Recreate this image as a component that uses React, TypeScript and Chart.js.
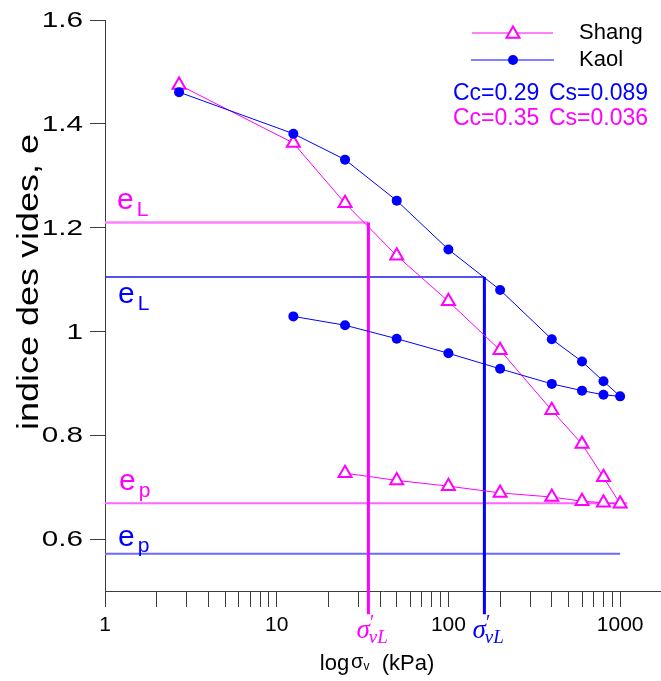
import React, { useEffect, useRef } from 'react';
import { Chart, registerables } from 'chart.js';

Chart.register(...registerables);

// ---- data ----
const shangPressure = [2.7, 12.5, 25, 50, 100, 200, 400, 600, 800, 1000, 800, 600, 400, 200, 100, 50, 25];
const shangVoid = [1.475, 1.363, 1.247, 1.146, 1.058, 0.964, 0.848, 0.783, 0.719, 0.668, 0.670, 0.673, 0.681, 0.689, 0.702, 0.713, 0.727];
const kaolPressure = [2.7, 12.5, 25, 50, 100, 200, 400, 600, 800, 1000, 800, 600, 400, 200, 100, 50, 25, 12.5];
const kaolVoid = [1.461, 1.381, 1.331, 1.252, 1.158, 1.080, 0.985, 0.942, 0.904, 0.875, 0.878, 0.886, 0.899, 0.928, 0.958, 0.986, 1.012, 1.029];

const eLShang = 1.21;
const eLKaol = 1.105;
const epShang = 0.669;
const epKaol = 0.572;
const sigmaLShang = 34.2;
const sigmaLKaol = 162;
const refLineStart = 1;
const epShangEnd = 1100;
const epKaolEnd = 1000;
const verticalLineBottom = 0.455;

const xTickValues = [1, 2, 3, 4, 5, 6, 7, 8, 9, 10, 20, 30, 40, 50, 60, 70, 80, 90, 100, 200, 300, 400, 500, 600, 700, 800, 900, 1000];
const xLabelledTicks = [1, 10, 100, 1000];
const yTickValues = [0.6, 0.8, 1, 1.2, 1.4, 1.6];
const yTickLabels = ['0.6', '0.8', '1', '1.2', '1.4', '1.6'];
const xMin = 1;
const xMax = 1730;
const yMin = 0.5;
const yMax = 1.6;

const legendNames = ['Shang', 'Kaol'];
const ccKaol = 'Cc=0.29';
const csKaol = 'Cs=0.089';
const ccShang = 'Cc=0.35';
const csShang = 'Cs=0.036';

const MAGENTA = '#ff00ff';
const BLUE = '#0000ff';
const SANS = "'Liberation Sans', Arial, sans-serif";
const SERIF = "'Liberation Serif', 'DejaVu Serif', serif";

const pts = (xs: number[], ys: number[]) => xs.map((x, i) => ({ x, y: ys[i] }));

function drawTriangle(ctx: CanvasRenderingContext2D, x: number, y: number, r: number) {
  ctx.beginPath();
  for (let k = 0; k < 3; k++) {
    const a = (k * 2 * Math.PI) / 3;
    const px = x + Math.sin(a) * r;
    const py = y - Math.cos(a) * r;
    if (k === 0) ctx.moveTo(px, py);
    else ctx.lineTo(px, py);
  }
  ctx.closePath();
}

function subLabel(
  ctx: CanvasRenderingContext2D,
  x: number,
  y: number,
  main: string,
  sub: string,
  color: string,
  mainFont: string,
  subFont: string,
  drop: number,
  gap: number
) {
  ctx.fillStyle = color;
  ctx.textAlign = 'left';
  ctx.textBaseline = 'alphabetic';
  ctx.font = mainFont;
  ctx.fillText(main, x, y);
  const w = ctx.measureText(main).width;
  ctx.font = subFont;
  ctx.fillText(sub, x + w + gap, y + drop);
}

const annotations = {
  id: 'annotations',
  afterDraw(chart: any) {
    const { ctx, chartArea, scales } = chart;
    const xs = scales.x;
    const ys = scales.y;
    ctx.save();

    // y tick labels (wide face as in the reference)
    ctx.fillStyle = '#000';
    ctx.font = `22px ${SANS}`;
    ctx.textAlign = 'right';
    ctx.textBaseline = 'middle';
    yTickValues.forEach((v, i) => {
      ctx.save();
      ctx.translate(chartArea.left - 22, ys.getPixelForValue(v) + 1);
      ctx.scale(1.35, 1);
      ctx.fillText(yTickLabels[i], 0, 0);
      ctx.restore();
    });

    // e labels
    const lx = chartArea.left + 12;
    const mf = `30px ${SANS}`;
    const sf = `21px ${SANS}`;
    subLabel(ctx, lx, ys.getPixelForValue(eLShang) - 13, 'e', 'L', MAGENTA, mf, sf, 7, 3);
    subLabel(ctx, lx + 1, ys.getPixelForValue(eLKaol) + 26, 'e', 'L', BLUE, mf, sf, 7, 3);
    subLabel(ctx, lx + 2, ys.getPixelForValue(epShang) - 13, 'e', 'p', MAGENTA, mf, sf, 7, 3);
    subLabel(ctx, lx + 1, ys.getPixelForValue(epKaol) - 8, 'e', 'p', BLUE, mf, sf, 6, 3);

    // sigma'_vL labels
    const sigY = chartArea.bottom + 47;
    const drawSig = (v: number, color: string) => {
      const x0 = xs.getPixelForValue(v) - 12;
      ctx.fillStyle = color;
      ctx.textAlign = 'left';
      ctx.textBaseline = 'alphabetic';
      ctx.font = `italic 27px ${SERIF}`;
      ctx.fillText('σ', x0, sigY);
      const w = ctx.measureText('σ').width;
      ctx.font = `italic 20px ${SERIF}`;
      ctx.fillText('′', x0 + w - 1, sigY - 9);
      ctx.font = `italic 19px ${SERIF}`;
      ctx.fillText('vL', x0 + w - 1, sigY + 5);
    };
    drawSig(sigmaLShang, MAGENTA);
    drawSig(sigmaLKaol, BLUE);

    // x title
    ctx.fillStyle = '#000';
    ctx.textAlign = 'left';
    ctx.textBaseline = 'alphabetic';
    const parts: [string, string, number][] = [
      ['log', `22px ${SANS}`, 0],
      ['σ', `20px ${SANS}`, -2],
      ['v', `12px ${SANS}`, 0],
      ['  (kPa)', `22px ${SANS}`, 0],
    ];
    let total = 0;
    const widths = parts.map(([t, f]) => {
      ctx.font = f;
      const w = ctx.measureText(t).width;
      total += w;
      return w;
    });
    let tx = 376 - total / 2;
    const ty = chart.height - 11;
    parts.forEach(([t, f, dy], i) => {
      ctx.font = f;
      ctx.fillText(t, tx, ty + dy);
      tx += widths[i] + (i === 0 ? 2 : 0);
    });

    // y title
    ctx.save();
    ctx.translate(30, chartArea.top + 262);
    ctx.rotate(-Math.PI / 2);
    ctx.scale(1.2, 1);
    ctx.textAlign = 'center';
    ctx.textBaseline = 'middle';
    ctx.font = `30px ${SANS}`;
    ctx.fillStyle = '#000';
    ctx.fillText('indice des vides, e', 0, 0);
    ctx.restore();

    // legend
    const r = chartArea.right;
    const top = chartArea.top;
    const l1 = top + 13;
    const l2 = top + 40;
    ctx.lineWidth = 1;
    ctx.strokeStyle = MAGENTA;
    ctx.beginPath();
    ctx.moveTo(r - 189, l1);
    ctx.lineTo(r - 108, l1);
    ctx.stroke();
    ctx.fillStyle = '#fff';
    ctx.lineWidth = 2;
    drawTriangle(ctx, r - 148, l1 + 1, 7.5);
    ctx.fill();
    ctx.stroke();
    ctx.lineWidth = 1;
    ctx.strokeStyle = BLUE;
    ctx.beginPath();
    ctx.moveTo(r - 190, l2);
    ctx.lineTo(r - 107, l2);
    ctx.stroke();
    ctx.fillStyle = BLUE;
    ctx.beginPath();
    ctx.arc(r - 148, l2, 5, 0, Math.PI * 2);
    ctx.fill();

    ctx.fillStyle = '#000';
    ctx.font = `22px ${SANS}`;
    ctx.textAlign = 'left';
    ctx.textBaseline = 'middle';
    ctx.fillText(legendNames[0], r - 82, l1);
    ctx.fillText(legendNames[1], r - 82, l2);

    ctx.font = `23px ${SANS}`;
    ctx.fillStyle = BLUE;
    ctx.fillText(ccKaol, r - 208, top + 74);
    ctx.fillText(csKaol, r - 112, top + 74);
    ctx.fillStyle = MAGENTA;
    ctx.fillText(ccShang, r - 208, top + 99);
    ctx.fillText(csShang, r - 112, top + 99);

    ctx.restore();
  },
};

export default function App() {
  const ref = useRef<HTMLCanvasElement | null>(null);

  useEffect(() => {
    if (!ref.current) return;
    const chart = new Chart(ref.current, {
      type: 'line',
      data: {
        datasets: [
          {
            label: 'Kaol',
            data: pts(kaolPressure, kaolVoid),
            borderColor: BLUE,
            borderWidth: 1,
            pointStyle: 'circle',
            pointRadius: 5,
            pointBackgroundColor: BLUE,
            pointBorderColor: BLUE,
            pointBorderWidth: 0,
            tension: 0,
            order: 1,
          },
          {
            label: 'Shang',
            data: pts(shangPressure, shangVoid),
            borderColor: MAGENTA,
            borderWidth: 1,
            pointStyle: 'triangle',
            pointRadius: 7.5,
            pointBackgroundColor: '#ffffff',
            pointBorderColor: MAGENTA,
            pointBorderWidth: 2,
            tension: 0,
            order: 2,
          },
          {
            label: 'sigmaL Shang',
            data: [
              { x: sigmaLShang, y: eLShang },
              { x: sigmaLShang, y: verticalLineBottom },
            ],
            borderColor: MAGENTA,
            borderWidth: 3,
            pointRadius: 0,
            clip: false as any,
            order: 3,
          },
          {
            label: 'sigmaL Kaol',
            data: [
              { x: sigmaLKaol, y: eLKaol },
              { x: sigmaLKaol, y: verticalLineBottom },
            ],
            borderColor: BLUE,
            borderWidth: 3,
            pointRadius: 0,
            clip: false as any,
            order: 4,
          },
          {
            label: 'eL Shang',
            data: [
              { x: refLineStart, y: eLShang },
              { x: sigmaLShang, y: eLShang },
            ],
            borderColor: '#ff80ff',
            borderWidth: 2.5,
            pointRadius: 0,
            order: 5,
          },
          {
            label: 'eL Kaol',
            data: [
              { x: refLineStart, y: eLKaol },
              { x: sigmaLKaol, y: eLKaol },
            ],
            borderColor: '#1a1aee',
            borderWidth: 1.5,
            pointRadius: 0,
            order: 6,
          },
          {
            label: 'ep Shang',
            data: [
              { x: refLineStart, y: epShang },
              { x: epShangEnd, y: epShang },
            ],
            borderColor: '#ff66ff',
            borderWidth: 2,
            pointRadius: 0,
            order: 7,
          },
          {
            label: 'ep Kaol',
            data: [
              { x: refLineStart, y: epKaol },
              { x: epKaolEnd, y: epKaol },
            ],
            borderColor: '#6a6aff',
            borderWidth: 2,
            pointRadius: 0,
            order: 8,
          },
        ],
      },
      options: {
        animation: false,
        responsive: false,
        devicePixelRatio: 1,
        layout: { autoPadding: false, padding: { top: 20, left: 0, right: 0, bottom: 0 } },
        plugins: {
          legend: { display: false },
          tooltip: { enabled: false },
        },
        scales: {
          x: {
            type: 'logarithmic',
            min: xMin,
            max: xMax,
            afterFit: (s: any) => {
              s.height = 90;
              s.paddingLeft = 0;
              s.paddingRight = 0;
            },
            afterBuildTicks: (s: any) => {
              s.ticks = xTickValues.map((v) => ({ value: v, major: xLabelledTicks.includes(v) }));
            },
            grid: {
              display: true,
              drawOnChartArea: false,
              drawTicks: true,
              tickLength: 16,
              color: '#3c3c3c',
              lineWidth: 1,
            },
            border: { display: true, color: '#3c3c3c', width: 1 },
            ticks: {
              autoSkip: false,
              maxRotation: 0,
              minRotation: 0,
              padding: 6,
              color: '#000',
              font: { family: SANS, size: 21 },
              callback: (v: any) => (xLabelledTicks.includes(Number(v)) ? String(v) : ''),
            },
          },
          y: {
            type: 'linear',
            min: yMin,
            max: yMax,
            afterFit: (s: any) => {
              s.width = 105;
              s.paddingTop = 0;
              s.paddingBottom = 0;
            },
            afterBuildTicks: (s: any) => {
              s.ticks = yTickValues.map((v) => ({ value: v }));
            },
            grid: {
              display: true,
              drawOnChartArea: false,
              drawTicks: true,
              tickLength: 15,
              color: '#3c3c3c',
              lineWidth: 1,
            },
            border: { display: true, color: '#3c3c3c', width: 1 },
            ticks: {
              display: false,
            },
          },
        },
      },
      plugins: [annotations],
    });
    return () => chart.destroy();
  }, []);

  return (
    <div style={{ position: 'fixed', left: 0, top: 0, width: 661, height: 681, background: '#fff' }}>
      <canvas ref={ref} width={661} height={681} style={{ width: 661, height: 681, display: 'block' }} />
    </div>
  );
}
